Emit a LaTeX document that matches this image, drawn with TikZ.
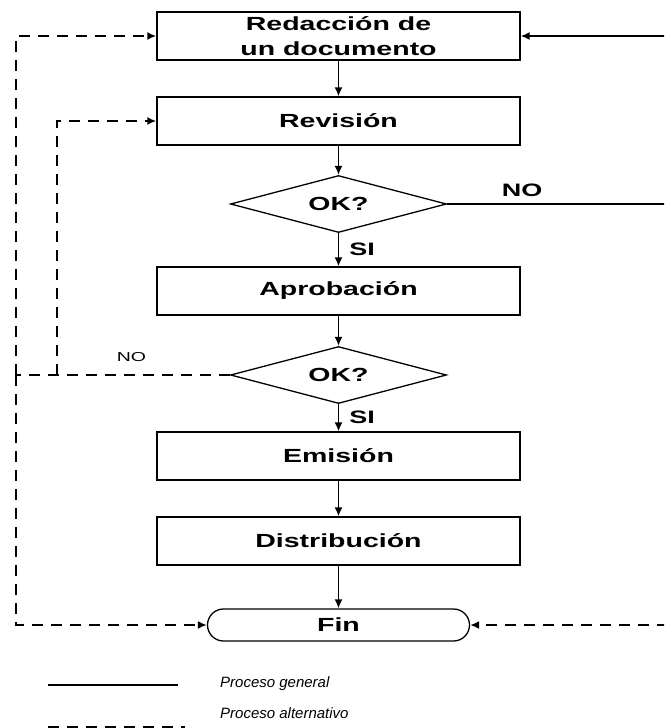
\documentclass[tikz,border=0pt]{standalone}
\usepackage{fontspec}
\setmainfont{Liberation Sans}
\newfontfamily\rotulo[FakeStretch=1.5]{Liberation Sans}
\usetikzlibrary{shapes.geometric,shapes.misc,arrows.meta}
\begin{document}
\begin{tikzpicture}[x=1pt,y=-1pt,
    caja/.style={draw,line width=1.4pt,minimum width=363pt,minimum height=48pt,inner sep=0pt,align=center,
        font=\rotulo\bfseries\fontsize{19}{25}\selectfont},
    rombo/.style={draw,diamond,aspect=3.8,line width=1.3pt,minimum width=216pt,minimum height=57pt,inner sep=0pt,
        font=\rotulo\bfseries\fontsize{19}{22}\selectfont},
    terminal/.style={draw,rounded rectangle,line width=1.3pt,
        minimum width=262pt,minimum height=32pt,inner sep=0pt,font=\rotulo\bfseries\fontsize{19}{22}\selectfont},
    rotulo/.style={font=\rotulo\bfseries\fontsize{18}{20}\selectfont,inner sep=1pt},
    flecha/.style={line width=1.6pt,-{Latex[length=9pt,width=8pt]}},
    alterna/.style={flecha,line width=2.2pt,dash pattern=on 11pt off 8pt},
    leyenda/.style={font=\itshape\fontsize{15}{18}\selectfont,anchor=west,inner sep=0pt}]
    \useasboundingbox (0,0) rectangle (664,728);
    \clip (0,0) rectangle (664,728);
    % cajas del proceso
    \foreach \n/\y/\t in {red/36/{Redacción de\\un documento},rev/121/Revisión,apr/291/Aprobación,
        emi/456/Emisión,dis/541/Distribución}
        \node[caja] (\n) at (338.5,\y) {\t};
    \node[rombo] (ok1) at (338.5,204) {OK?};
    \node[rombo] (ok2) at (338.5,375) {OK?};
    \node[terminal] (fin) at (338.5,625) {Fin};
    % proceso general
    \foreach \a/\b in {red/rev,rev/ok1,apr/ok2,emi/dis,dis/fin} \draw[flecha] (\a)--(\b);
    \draw[flecha] (ok1) -- node[rotulo,right=9pt] (si1) {SI} (apr);
    \draw[flecha] (ok2) -- node[rotulo,right=9pt] (si2) {SI} (emi);
    \coordinate (e1) at (668,204);
    \draw[flecha] (ok1.east) -- node[rotulo,above=6pt,pos=.34] (no1) {NO} (e1) |- (red.east);
    % proceso alternativo
    \coordinate (j1) at (57,375);
    \coordinate (j2) at (16,375);
    \coordinate (e2) at (668,625);
    \draw[alterna,-] (ok2.west) -- node[font=\rotulo\fontsize{13}{15}\selectfont,above=9pt,pos=.46] (no2) {NO} (j2);
    \draw[alterna] (j2) |- (red.west);
    \draw[alterna] (j2) |- (fin.west);
    \draw[alterna] (j1) |- (rev.west);
    \draw[alterna] (e2) -- (fin.east);
    % leyenda
    \coordinate (l1) at (48,685);
    \coordinate (l2) at (178,685);
    \coordinate (l3) at (48,727);
    \coordinate (l4) at (185,727);
    \draw[line width=1.2pt] (l1) -- (l2);
    \draw[line width=2.6pt,dash pattern=on 11pt off 8pt] (l3) -- (l4);
    \node[leyenda] (lg1) at (220,684) {Proceso general};
    \node[leyenda] (lg2) at (220,713) {Proceso alternativo};
\end{tikzpicture}
\end{document}
